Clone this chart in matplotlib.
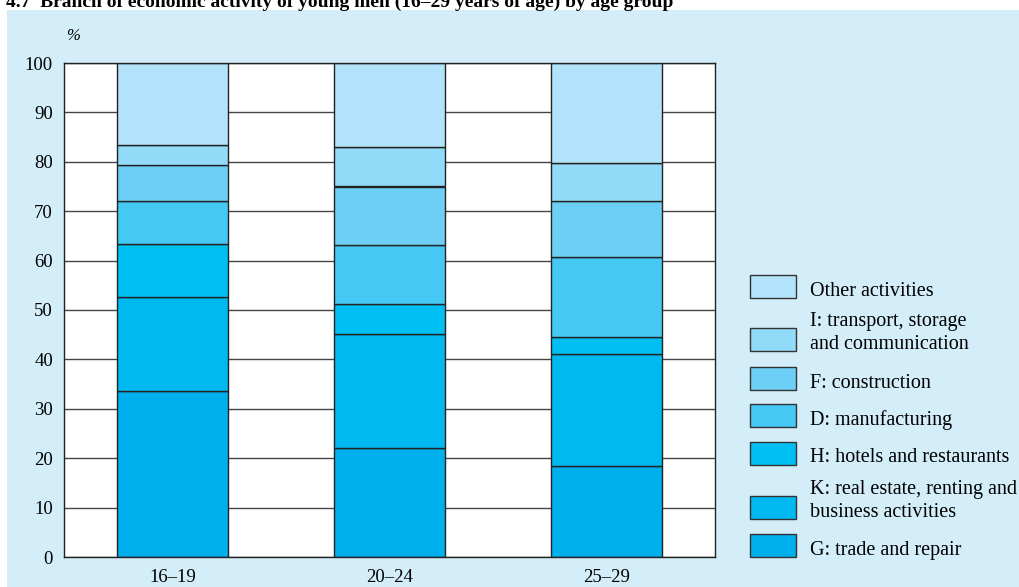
import matplotlib
matplotlib.use("Agg")
import matplotlib.pyplot as plt
from matplotlib.patches import Rectangle
import numpy as np

categories = ["16–19", "20–24", "25–29"]
# bottom to top
series_names = ["G: trade and repair",
                "K: real estate, renting and\nbusiness activities",
                "H: hotels and restaurants",
                "D: manufacturing",
                "F: construction",
                "I: transport, storage\nand communication",
                "Other activities"]
G = [33.6, 22.0, 18.4]
K = [19.0, 23.1, 22.7]
H = [10.8, 6.1, 3.4]
D = [8.7, 12.0, 16.2]
F = [7.3, 11.8, 11.3]
I = [3.9, 7.9, 7.7]
Other = [16.7, 17.1, 20.3]
series_values = [G, K, H, D, F, I, Other]
colors = ["#00b0ec", "#00b9f0", "#00bff3", "#45c8f4", "#6dcff5", "#92dbf8", "#b3e3fa"]
yticks = list(range(0, 101, 10))

W, Hh = 1019, 587
fig = plt.figure(figsize=(W / 100, Hh / 100), dpi=100)
fig.patch.set_facecolor("white")
serif = ["Liberation Serif", "DejaVu Serif"]

# blue panel
fig.add_artist(Rectangle((7 / W, 0), 1 - 7 / W, (Hh - 10) / Hh, transform=fig.transFigure,
                         facecolor="#d3edf9", edgecolor="none", zorder=0))
fig.text(6 / W, (Hh - 7) / Hh, "4.7  Branch of economic activity of young men (16–29 years of age) by age group",
         family=serif, fontsize=14, fontweight="bold", va="baseline", ha="left")

ax = fig.add_axes([64 / W, (Hh - 557) / Hh, (715 - 64) / W, (557 - 63) / Hh])
ax.set_facecolor("white")
x = np.arange(len(categories))
bottom = np.zeros(len(categories))
for vals, c, name in zip(series_values, colors, series_names):
    ax.bar(x, vals, width=0.51, bottom=bottom, color=c, edgecolor="#222222", linewidth=1.0, zorder=3)
    bottom += np.array(vals)

ax.set_xlim(-0.5, 2.5)
ax.set_ylim(0, 100)
ax.set_yticks(yticks)
ax.set_xticks(x)
ax.set_xticklabels(categories)
ax.tick_params(length=0, labelsize=13.5)
ax.tick_params(axis="y", pad=8)
ax.tick_params(axis="x", pad=9)
for lab in ax.get_xticklabels() + ax.get_yticklabels():
    lab.set_family(serif)
ax.grid(axis="y", color="#444444", linewidth=1.0, zorder=1)
for s in ax.spines.values():
    s.set_color("#222222")
    s.set_linewidth(1.0)
    s.set_zorder(4)

fig.text(73 / W, (Hh - 40) / Hh, "%", family=serif, fontsize=12, style="italic", ha="center", va="baseline")

# legend (top to bottom)
leg_tops = [275, 328, 367, 404, 442, 496, 534]
order = list(range(len(series_names)))[::-1]
for top, idx in zip(leg_tops, order):
    fig.add_artist(Rectangle((750 / W, (Hh - top - 23) / Hh), 46 / W, 23 / Hh, transform=fig.transFigure,
                             facecolor=colors[idx], edgecolor="#333333", linewidth=1.0))
    name = series_names[idx]
    if "\n" in name:
        fig.text(810 / W, (Hh - top - 5) / Hh, name, family=serif, fontsize=14.5,
                 va="center", ha="left", linespacing=1.3)
    else:
        fig.text(810 / W, (Hh - top - 16) / Hh, name, family=serif, fontsize=14.5,
                 va="center", ha="left")

fig.savefig("out.png", dpi=100, facecolor=fig.get_facecolor())
